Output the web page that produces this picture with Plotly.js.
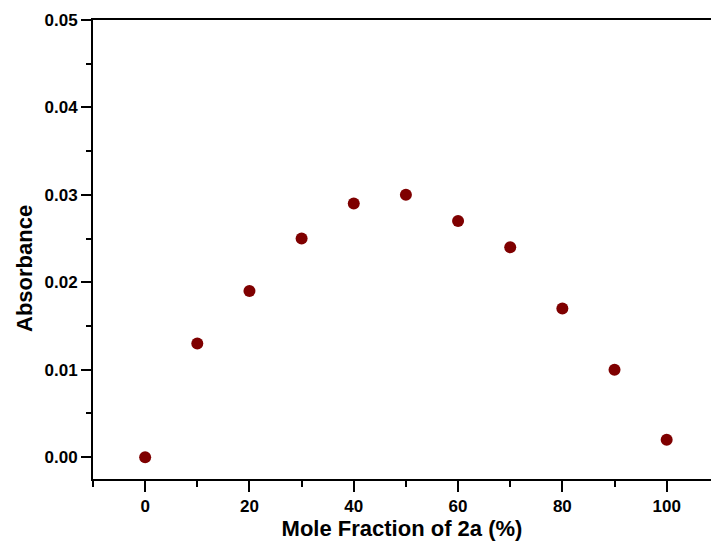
<!DOCTYPE html>
<html>
<head>
<meta charset="utf-8">
<script src="https://cdn.plot.ly/plotly-3.0.1.min.js"></script>
<style>html,body{margin:0;padding:0;background:#fff}#chart{width:711px;height:541px}</style>
</head>
<body>
<div id="chart"></div>
<script>
const moleFraction = [0, 10, 20, 30, 40, 50, 60, 70, 80, 90, 100];
const absorbance = [0.000, 0.013, 0.019, 0.025, 0.029, 0.030, 0.027, 0.024, 0.017, 0.010, 0.002];
const xTickVals = [0, 20, 40, 60, 80, 100];
const yTickVals = [0.00, 0.01, 0.02, 0.03, 0.04, 0.05];
const yTickText = ['0.00', '0.01', '0.02', '0.03', '0.04', '0.05'];
const xTitle = 'Mole Fraction of 2a (%)';
const yTitle = 'Absorbance';

const font = 'Liberation Sans, Arial, sans-serif';
const trace = {
  x: moleFraction, y: absorbance, type: 'scatter', mode: 'markers',
  marker: {color: '#7f0000', size: 12, line: {width: 0}},
  hoverinfo: 'x+y'
};
const layout = {
  width: 711, height: 541,
  margin: {l: 93, r: 0, t: 20, b: 62},
  paper_bgcolor: '#fff', plot_bgcolor: '#fff',
  showlegend: false,
  font: {family: font, color: '#000'},
  xaxis: {
    range: [-10, 108.5], showgrid: false, zeroline: false,
    showline: true, linecolor: '#000', linewidth: 2, mirror: true,
    ticks: 'outside', ticklen: 11, tickwidth: 2, tickcolor: '#000',
    tickvals: xTickVals,
    tickfont: {family: font, size: 17, weight: 'bold'},
    minor: {dtick: 10, tick0: 0, ticks: 'outside', ticklen: 6, tickwidth: 2, tickcolor: '#000', showgrid: false},
    title: {text: xTitle, font: {family: font, size: 22, weight: 'bold'}, standoff: 7}
  },
  yaxis: {
    range: [-0.0025, 0.05], showgrid: false, zeroline: false,
    showline: true, linecolor: '#000', linewidth: 2, mirror: false,
    ticks: 'outside', ticklen: 10, tickwidth: 2, tickcolor: '#000',
    tickvals: yTickVals, ticktext: yTickText,
    tickfont: {family: font, size: 17, weight: 'bold'},
    minor: {dtick: 0.005, tick0: 0, ticks: 'outside', ticklen: 5, tickwidth: 2, tickcolor: '#000', showgrid: false}
  },
  annotations: [{
    text: yTitle, textangle: -90, showarrow: false,
    xref: 'paper', yref: 'paper', x: -93/618 + 24/618, y: 0.4575,
    xanchor: 'center', yanchor: 'middle',
    font: {family: font, size: 22, weight: 'bold', color: '#000'}
  }]
};
Plotly.newPlot('chart', [trace], layout, {displayModeBar: false, staticPlot: true});
</script>
</body>
</html>
